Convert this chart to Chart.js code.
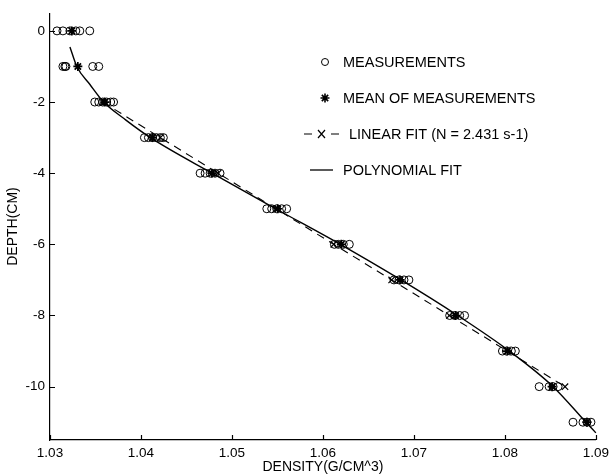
<!DOCTYPE html>
<html><head><meta charset="utf-8">
<script src="https://cdn.jsdelivr.net/npm/chart.js@4/dist/chart.umd.min.js"></script>
<style>html,body{margin:0;padding:0;background:#fff}#wrap{width:614px;height:476px}</style>
</head><body><div id="wrap"><canvas id="c" width="614" height="476"></canvas></div>
<script>
// ---- data ----
const depths = [0, -1, -2, -3, -4, -5, -6, -7, -8, -9, -10, -11];
const measurements = [
  [1.03077, 1.03142, 1.03219, 1.03284, 1.03328, 1.03437],
  [1.03142, 1.03164, 1.03175, 1.03470, 1.03536],
  [1.03492, 1.03536, 1.03579, 1.03623, 1.03667, 1.03699],
  [1.04038, 1.04082, 1.04126, 1.04169, 1.04213, 1.04246],
  [1.04650, 1.04705, 1.04760, 1.04814, 1.04869],
  [1.05383, 1.05437, 1.05492, 1.05546, 1.05601],
  [1.06126, 1.06169, 1.06224, 1.06290],
  [1.06781, 1.06836, 1.06891, 1.06945],
  [1.07393, 1.07448, 1.07503, 1.07557],
  [1.07973, 1.08016, 1.08071, 1.08115],
  [1.08377, 1.08486, 1.08530, 1.08585],
  [1.08749, 1.08858, 1.08902, 1.08946]
];
const meanDensity = [1.03240, 1.03306, 1.03601, 1.04126, 1.04780, 1.05503, 1.06202, 1.06847, 1.07459, 1.08027, 1.08519, 1.08902];
const linearDepths = [-2, -3, -4, -5, -6, -7, -8, -9, -10];
const linearDensity = [1.03578, 1.04213, 1.04848, 1.05484, 1.06119, 1.06755, 1.07390, 1.08026, 1.08661];
const polyDepths = [-0.45, -1, -1.5, -2, -2.5, -3, -4, -5, -6, -7, -8, -9, -10, -11, -11.3];
const polyDensity = [1.03219, 1.03295, 1.03437, 1.03590, 1.03831, 1.04104, 1.04781, 1.05481, 1.06191, 1.06858, 1.07481, 1.08049, 1.08530, 1.08891, 1.09000];
const xTicks = [1.03, 1.04, 1.05, 1.06, 1.07, 1.08, 1.09];
const yTicks = [0, -2, -4, -6, -8, -10];
const seriesLabels = ['MEASUREMENTS', 'MEAN OF MEASUREMENTS', 'LINEAR FIT (N = 2.431 s-1)', 'POLYNOMIAL FIT'];
const xTitle = 'DENSITY(G/CM^3)';
const yTitle = 'DEPTH(CM)';

// ---- build datasets ----
const measPts = [];
depths.forEach((d, i) => measurements[i].forEach(v => measPts.push({x: v, y: d})));
const meanPts = depths.map((d, i) => ({x: meanDensity[i], y: d}));
const linPts = linearDepths.map((d, i) => ({x: linearDensity[i], y: d}));
const polyPts = polyDepths.map((d, i) => ({x: polyDensity[i], y: d}));

const FONT = '"Liberation Sans", Arial, Helvetica, sans-serif';

const inwardTicks = {
  id: 'inwardTicks',
  afterDraw(chart) {
    const ctx = chart.ctx, a = chart.chartArea;
    const xs = chart.scales.x, ys = chart.scales.y;
    ctx.save();
    ctx.strokeStyle = '#000'; ctx.lineWidth = 1.2;
    ctx.beginPath();
    xs.ticks.forEach(t => { const p = Math.round(xs.getPixelForValue(t.value)) + 0.5; ctx.moveTo(p, a.bottom); ctx.lineTo(p, a.bottom - 5); });
    ys.ticks.forEach(t => { const p = Math.round(ys.getPixelForValue(t.value)) + 0.5; ctx.moveTo(a.left, p); ctx.lineTo(a.left + 5, p); });
    ctx.stroke();
    ctx.restore();
  }
};

const customLegend = {
  id: 'customLegend',
  afterDraw(chart, args, opts) {
    const ctx = chart.ctx;
    ctx.save();
    ctx.fillStyle = '#000'; ctx.strokeStyle = '#000';
    ctx.font = opts.fontSize + 'px ' + FONT;
    ctx.textBaseline = 'middle'; ctx.textAlign = 'left';
    chart.data.datasets.forEach((ds, i) => {
      const y = opts.top + i * opts.step;
      const sx = opts.symbolX;
      ctx.lineWidth = 1;
      if (i === 0) {
        ctx.beginPath(); ctx.arc(sx, y, 3.5, 0, Math.PI * 2); ctx.stroke();
      } else if (i === 1) {
        ctx.lineWidth = 1.6;
        ctx.beginPath();
        for (let k = 0; k < 4; k++) { const an = k * Math.PI / 4; ctx.moveTo(sx - 4.5 * Math.cos(an), y - 4.5 * Math.sin(an)); ctx.lineTo(sx + 4.5 * Math.cos(an), y + 4.5 * Math.sin(an)); }
        ctx.stroke();
      } else if (i === 2) {
        ctx.lineWidth = 1.2;
        ctx.beginPath();
        ctx.moveTo(sx - 21, y); ctx.lineTo(sx - 13, y);
        ctx.moveTo(sx + 6, y); ctx.lineTo(sx + 14, y);
        ctx.moveTo(sx - 7, y - 4); ctx.lineTo(sx, y + 4);
        ctx.moveTo(sx, y - 4); ctx.lineTo(sx - 7, y + 4);
        ctx.stroke();
      } else {
        ctx.lineWidth = 1.3;
        ctx.beginPath(); ctx.moveTo(sx - 15, y); ctx.lineTo(sx + 8, y); ctx.stroke();
      }
      ctx.fillText(ds.label, opts.textX + (i === 2 ? 6 : 0), y + 1);
    });
    ctx.restore();
  }
};

new Chart(document.getElementById('c'), {
  type: 'scatter',
  data: {
    datasets: [
      { label: seriesLabels[0], data: measPts, showLine: false, pointStyle: 'circle', pointRadius: 4, pointBorderWidth: 1,
        borderColor: '#000', backgroundColor: 'rgba(255,255,255,0)', pointBackgroundColor: 'rgba(255,255,255,0)', clip: false, order: 3 },
      { label: seriesLabels[1], data: meanPts, showLine: false, pointStyle: 'star', pointRadius: 4.5, pointBorderWidth: 1.7,
        borderColor: '#000', backgroundColor: '#000', clip: false, order: 2 },
      { label: seriesLabels[2], data: linPts, showLine: true, borderDash: [8, 6], borderWidth: 1.1, borderColor: '#000',
        pointStyle: 'crossRot', pointRadius: 4.5, pointBorderWidth: 1.2, pointBorderColor: '#000', backgroundColor: '#000', tension: 0, clip: false, order: 1 },
      { label: seriesLabels[3], data: polyPts, showLine: true, borderWidth: 1.4, borderColor: '#000', pointRadius: 0,
        cubicInterpolationMode: 'monotone', clip: false, order: 0 }
    ]
  },
  options: {
    responsive: false, animation: false, devicePixelRatio: 1,
    layout: { padding: { top: 10, right: 15, left: 0, bottom: 0 } },
    plugins: {
      legend: { display: false }, tooltip: { enabled: false },
      customLegend: { top: 62, step: 36, symbolX: 325, textX: 343, fontSize: 14.5 }
    },
    scales: {
      x: {
        type: 'linear', min: 1.03, max: 1.09,
        afterBuildTicks: s => { s.ticks = xTicks.map(v => ({value: v})); },
        afterFit: s => { s.height = 36; },
        grid: { display: true, drawOnChartArea: false, drawTicks: false },
        border: { display: true, color: '#000', width: 1.2 },
        ticks: { color: '#000', padding: 5, font: { family: FONT, size: 13.5 }, maxRotation: 0, callback: v => Number(v).toFixed(2) },
        title: { display: true, text: xTitle, color: '#000', font: { family: FONT, size: 14 }, padding: { top: 0, bottom: 0 } }
      },
      y: {
        type: 'linear', min: -11.5, max: 0.5,
        afterBuildTicks: s => { s.ticks = yTicks.map(v => ({value: v})); },
        afterFit: s => { s.width = 50; },
        grid: { display: true, drawOnChartArea: false, drawTicks: false },
        border: { display: true, color: '#000', width: 1.2 },
        ticks: { color: '#000', padding: 5, font: { family: FONT, size: 13.5 }, callback: v => String(v) },
        title: { display: true, text: yTitle, color: '#000', font: { family: FONT, size: 14 }, padding: { top: 5, bottom: 0 } }
      }
    }
  },
  plugins: [inwardTicks, customLegend]
});
</script></body></html>
